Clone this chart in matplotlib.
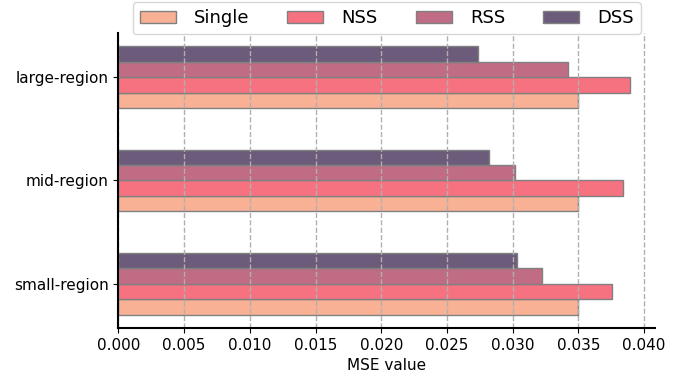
import numpy as np
import matplotlib
matplotlib.use('Agg')
from matplotlib import pyplot as plt

regions = ['small-region', 'mid-region', 'large-region']
methods = ['Single', 'NSS', 'RSS', 'DSS']
colors = ['#F8B195', '#F67280', '#C06C84', '#6C5B7B']

# MSE per method, ordered small, mid, large
single = [0.0350, 0.0350, 0.0350]
nss = [0.0376, 0.0384, 0.0389]
rss = [0.0322, 0.0302, 0.0342]
dss = [0.0303, 0.0282, 0.0274]
values = [single, nss, rss, dss]

fig = plt.figure(figsize=(6.94, 3.77), dpi=100)
ax = fig.add_axes([0.1707, 0.13, 0.944 - 0.1707, 0.9125 - 0.13])

y = np.arange(len(regions))
h = 0.15
for i, (name, vals) in enumerate(zip(methods, values)):
    ax.barh(y + (i - 1.5) * h, vals, height=h, color=colors[i],
            edgecolor='gray', linewidth=1, label=name)

ax.set_yticks(y)
ax.set_yticklabels(regions, fontsize=11)
ax.tick_params(axis='x', labelsize=11)
ax.set_xlabel('MSE value', fontsize=11)
ax.xaxis.grid(True, linestyle='--', color='#b0b0b0', linewidth=1)
ax.spines['top'].set_visible(False)
ax.spines['right'].set_visible(False)
ax.spines['left'].set_linewidth(1.5)
ax.spines['bottom'].set_linewidth(1.5)

ax.legend(loc='lower center', bbox_to_anchor=(0.5, 0.995), ncol=4,
          fontsize=13, handlelength=2.0, handletextpad=1.0,
          columnspacing=2.1, borderaxespad=0, frameon=True)

plt.savefig('out.png', dpi=100)
